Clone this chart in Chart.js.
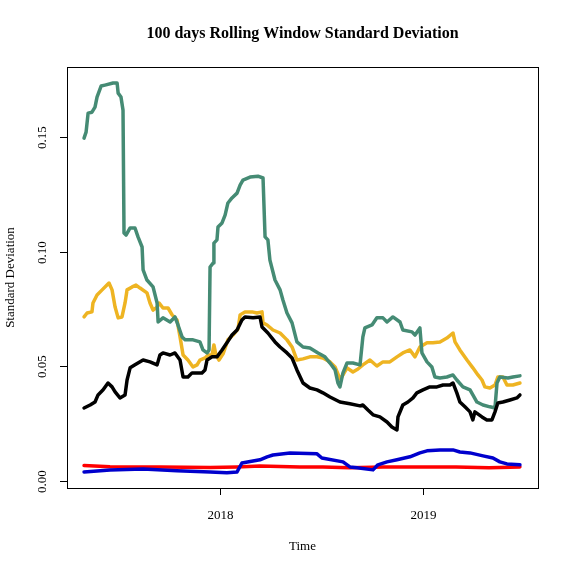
<!DOCTYPE html>
<html lang="en">
<head>
    <meta charset="UTF-8">
    <title>100 days Rolling Window Standard Deviation</title>
    <script src="https://cdn.jsdelivr.net/npm/chart.js"></script>
    <style>
        body {
            margin: 0;
            background: #fff;
        }
        canvas {
            display: block;
        }
    </style>
</head>
<body>
    <canvas id="sdChart" width="572" height="572"></canvas>

    <script>
        // time is in decimal years
        const greenTime = [2017.330, 2017.340, 2017.350, 2017.369, 2017.384, 2017.394, 2017.414, 2017.433, 2017.473, 2017.493,
            2017.498, 2017.512, 2017.522, 2017.527, 2017.537, 2017.557, 2017.581, 2017.596, 2017.616, 2017.621,
            2017.640, 2017.670, 2017.690, 2017.695, 2017.719, 2017.754, 2017.778, 2017.793, 2017.813, 2017.828,
            2017.867, 2017.901, 2017.916, 2017.936, 2017.946, 2017.951, 2017.966, 2017.970, 2017.985, 2017.990,
            2018.010, 2018.025, 2018.039, 2018.059, 2018.084, 2018.099, 2018.113, 2018.148, 2018.187, 2018.212,
            2018.222, 2018.236, 2018.246, 2018.271, 2018.296, 2018.310, 2018.330, 2018.355, 2018.379, 2018.409,
            2018.443, 2018.483, 2018.517, 2018.542, 2018.567, 2018.581, 2018.591, 2018.606, 2018.626, 2018.655,
            2018.690, 2018.704, 2018.714, 2018.749, 2018.773, 2018.803, 2018.823, 2018.852, 2018.887, 2018.901,
            2018.946, 2018.961, 2018.985, 2018.995, 2019.020, 2019.044, 2019.059, 2019.084, 2019.118, 2019.148,
            2019.167, 2019.197, 2019.232, 2019.246, 2019.266, 2019.296, 2019.330, 2019.355, 2019.365, 2019.379,
            2019.419, 2019.443, 2019.478];
        const greenSD = [0.1495, 0.1521, 0.1604, 0.1608, 0.1630, 0.1674, 0.1722, 0.1726, 0.1735, 0.1735,
            0.1691, 0.1674, 0.1617, 0.1081, 0.1072, 0.1103, 0.1103, 0.1064, 0.1020, 0.0920,
            0.0876, 0.0846, 0.0776, 0.0693, 0.0711, 0.0693, 0.0715, 0.0680, 0.0628, 0.0615,
            0.0615, 0.0606, 0.0571, 0.0558, 0.0571, 0.0933, 0.0950, 0.1037, 0.1051, 0.1107,
            0.1125, 0.1159, 0.1212, 0.1234, 0.1255, 0.1290, 0.1312, 0.1325, 0.1329, 0.1321,
            0.1064, 0.1051, 0.0963, 0.0876, 0.0833, 0.0789, 0.0732, 0.0689, 0.0606, 0.0584,
            0.0580, 0.0558, 0.0541, 0.0514, 0.0484, 0.0427, 0.0410, 0.0471, 0.0514, 0.0514,
            0.0506, 0.0628, 0.0667, 0.0680, 0.0711, 0.0711, 0.0693, 0.0715, 0.0693, 0.0658,
            0.0650, 0.0636, 0.0667, 0.0558, 0.0519, 0.0497, 0.0453, 0.0449, 0.0453, 0.0462,
            0.0440, 0.0410, 0.0397, 0.0375, 0.0344, 0.0331, 0.0323, 0.0318, 0.0427, 0.0453,
            0.0449, 0.0453, 0.0458];

        const yellowTime = [2017.330, 2017.345, 2017.369, 2017.374, 2017.394, 2017.419, 2017.443, 2017.453, 2017.468, 2017.483,
            2017.498, 2017.517, 2017.532, 2017.542, 2017.567, 2017.586, 2017.606, 2017.640, 2017.655, 2017.670,
            2017.690, 2017.700, 2017.719, 2017.744, 2017.764, 2017.788, 2017.803, 2017.818, 2017.842, 2017.867,
            2017.887, 2017.901, 2017.926, 2017.941, 2017.961, 2017.970, 2017.980, 2017.995, 2018.015, 2018.039,
            2018.064, 2018.089, 2018.099, 2018.123, 2018.158, 2018.182, 2018.207, 2018.212, 2018.232, 2018.261,
            2018.296, 2018.330, 2018.355, 2018.379, 2018.409, 2018.443, 2018.478, 2018.507, 2018.542, 2018.567,
            2018.591, 2018.606, 2018.626, 2018.655, 2018.680, 2018.704, 2018.739, 2018.773, 2018.803, 2018.837,
            2018.872, 2018.901, 2018.936, 2018.961, 2018.985, 2019.020, 2019.049, 2019.084, 2019.118, 2019.148,
            2019.158, 2019.182, 2019.217, 2019.246, 2019.271, 2019.291, 2019.305, 2019.330, 2019.355, 2019.369,
            2019.394, 2019.414, 2019.443, 2019.478];
        const yellowSD = [0.0715, 0.0732, 0.0737, 0.0776, 0.0811, 0.0833, 0.0854, 0.0863, 0.0833, 0.0758,
            0.0711, 0.0715, 0.0776, 0.0833, 0.0846, 0.0854, 0.0841, 0.0820, 0.0776, 0.0745,
            0.0758, 0.0776, 0.0754, 0.0754, 0.0724, 0.0702, 0.0628, 0.0549, 0.0527, 0.0497,
            0.0506, 0.0527, 0.0536, 0.0549, 0.0549, 0.0593, 0.0549, 0.0527, 0.0554, 0.0615,
            0.0636, 0.0663, 0.0724, 0.0737, 0.0737, 0.0732, 0.0737, 0.0689, 0.0680, 0.0658,
            0.0645, 0.0615, 0.0584, 0.0527, 0.0532, 0.0541, 0.0541, 0.0536, 0.0519, 0.0497,
            0.0445, 0.0462, 0.0493, 0.0475, 0.0488, 0.0506, 0.0527, 0.0501, 0.0519, 0.0519,
            0.0541, 0.0558, 0.0571, 0.0541, 0.0584, 0.0602, 0.0602, 0.0606, 0.0623, 0.0645,
            0.0606, 0.0571, 0.0527, 0.0493, 0.0462, 0.0440, 0.0410, 0.0405, 0.0418, 0.0453,
            0.0453, 0.0418, 0.0418, 0.0427];

        const blackTime = [2017.330, 2017.360, 2017.384, 2017.399, 2017.424, 2017.448, 2017.468, 2017.483, 2017.507, 2017.532,
            2017.542, 2017.557, 2017.581, 2017.621, 2017.655, 2017.690, 2017.704, 2017.719, 2017.754, 2017.778,
            2017.803, 2017.818, 2017.842, 2017.862, 2017.887, 2017.911, 2017.926, 2017.936, 2017.961, 2017.985,
            2018.010, 2018.034, 2018.059, 2018.084, 2018.108, 2018.123, 2018.163, 2018.197, 2018.207, 2018.236,
            2018.271, 2018.296, 2018.330, 2018.355, 2018.379, 2018.409, 2018.443, 2018.478, 2018.507, 2018.542,
            2018.591, 2018.640, 2018.690, 2018.704, 2018.729, 2018.754, 2018.788, 2018.823, 2018.847, 2018.872,
            2018.877, 2018.901, 2018.926, 2018.951, 2018.970, 2019.000, 2019.034, 2019.069, 2019.099, 2019.133,
            2019.148, 2019.167, 2019.182, 2019.207, 2019.232, 2019.246, 2019.256, 2019.291, 2019.315, 2019.340,
            2019.355, 2019.369, 2019.394, 2019.429, 2019.463, 2019.478];
        const blackSD = [0.0318, 0.0331, 0.0344, 0.0375, 0.0397, 0.0427, 0.0410, 0.0388, 0.0362, 0.0375,
            0.0440, 0.0493, 0.0506, 0.0527, 0.0519, 0.0506, 0.0549, 0.0558, 0.0549, 0.0558,
            0.0527, 0.0453, 0.0453, 0.0471, 0.0471, 0.0471, 0.0484, 0.0527, 0.0541, 0.0541,
            0.0571, 0.0602, 0.0636, 0.0658, 0.0702, 0.0715, 0.0711, 0.0715, 0.0671, 0.0645,
            0.0606, 0.0584, 0.0558, 0.0536, 0.0484, 0.0427, 0.0405, 0.0397, 0.0384, 0.0366,
            0.0344, 0.0336, 0.0327, 0.0331, 0.0309, 0.0288, 0.0279, 0.0257, 0.0235, 0.0222,
            0.0279, 0.0331, 0.0344, 0.0362, 0.0384, 0.0397, 0.0410, 0.0410, 0.0418, 0.0418,
            0.0427, 0.0384, 0.0344, 0.0323, 0.0301, 0.0266, 0.0301, 0.0279, 0.0266, 0.0266,
            0.0301, 0.0340, 0.0344, 0.0353, 0.0362, 0.0375];

        const redTime = [2017.330, 2017.458, 2017.704, 2017.951, 2018.084, 2018.197, 2018.394, 2018.507, 2018.640, 2018.803,
            2018.995, 2019.163, 2019.325, 2019.478];
        const redSD = [0.0067, 0.0062, 0.0061, 0.0058, 0.0061, 0.0065, 0.0061, 0.0061, 0.0057, 0.0061,
            0.0061, 0.0061, 0.0057, 0.0061];

        const blueTime = [2017.330, 2017.458, 2017.621, 2017.788, 2017.951, 2018.034, 2018.084, 2018.108, 2018.197, 2018.232,
            2018.261, 2018.345, 2018.478, 2018.502, 2018.606, 2018.640, 2018.675, 2018.754, 2018.778, 2018.823,
            2018.872, 2018.936, 2018.985, 2019.020, 2019.084, 2019.148, 2019.182, 2019.232, 2019.296, 2019.345,
            2019.379, 2019.414, 2019.478];
        const blueSD = [0.0039, 0.0048, 0.0052, 0.0044, 0.0039, 0.0035, 0.0039, 0.0078, 0.0092, 0.0105,
            0.0113, 0.0122, 0.0118, 0.0100, 0.0083, 0.0061, 0.0057, 0.0048, 0.0070, 0.0083,
            0.0092, 0.0105, 0.0122, 0.0131, 0.0135, 0.0135, 0.0126, 0.0122, 0.0109, 0.0100,
            0.0083, 0.0074, 0.0070];

        const yTicks = [0, 0.05, 0.10, 0.15];
        const xTicks = [2018, 2019];

        function pairs(t, v) {
            return t.map((x, i) => ({ x: x, y: v[i] }));
        }

        function series(data, color, order) {
            return {
                data: data,
                borderColor: color,
                borderWidth: 3.5,
                borderJoinStyle: 'round',
                borderCapStyle: 'round',
                pointRadius: 0,
                fill: false,
                tension: 0,
                order: order
            };
        }

        // R style axes, box and titles
        const rAxes = {
            id: 'rAxes',
            afterDraw(chart) {
                const c = chart.ctx;
                const a = chart.chartArea;
                const xs = chart.scales.x;
                const ys = chart.scales.y;
                c.save();
                c.strokeStyle = '#000';
                c.fillStyle = '#000';
                c.lineWidth = 1;
                c.strokeRect(a.left + 0.5, a.top + 0.5, a.right - a.left, a.bottom - a.top);

                c.font = '13px "Liberation Serif", serif';
                c.textAlign = 'center';
                c.textBaseline = 'middle';
                xTicks.forEach(t => {
                    const px = Math.round(xs.getPixelForValue(t)) + 0.5;
                    c.beginPath();
                    c.moveTo(px, a.bottom);
                    c.lineTo(px, a.bottom + 7);
                    c.stroke();
                    c.fillText(String(t), px, a.bottom + 28);
                });

                const y0 = Math.round(ys.getPixelForValue(yTicks[0])) + 0.5;
                const y1 = Math.round(ys.getPixelForValue(yTicks[yTicks.length - 1])) + 0.5;
                c.beginPath();
                c.moveTo(a.left + 0.5, y0);
                c.lineTo(a.left + 0.5, y1);
                c.stroke();
                yTicks.forEach(t => {
                    const py = Math.round(ys.getPixelForValue(t)) + 0.5;
                    c.beginPath();
                    c.moveTo(a.left, py);
                    c.lineTo(a.left - 7, py);
                    c.stroke();
                    c.save();
                    c.translate(a.left - 24, py);
                    c.rotate(-Math.PI / 2);
                    c.fillText(t.toFixed(2), 0, 0);
                    c.restore();
                });

                const cx = (a.left + a.right) / 2;
                c.fillText('Time', cx, 547);
                c.save();
                c.translate(11, (a.top + a.bottom) / 2);
                c.rotate(-Math.PI / 2);
                c.fillText('Standard Deviation', 0, 0);
                c.restore();

                c.font = 'bold 16px "Liberation Serif", serif';
                c.fillText('100 days Rolling Window Standard Deviation', cx, 34);
                c.restore();
            }
        };

        const ctx = document.getElementById('sdChart').getContext('2d');
        const sdChart = new Chart(ctx, {
            type: 'line',
            data: {
                datasets: [
                    series(pairs(blackTime, blackSD), '#000000', 0),
                    series(pairs(greenTime, greenSD), '#458B74', 1),
                    series(pairs(yellowTime, yellowSD), '#EEB422', 2),
                    series(pairs(blueTime, blueSD), '#0000CD', 3),
                    series(pairs(redTime, redSD), '#FF0000', 4)
                ]
            },
            options: {
                responsive: false,
                animation: false,
                layout: {
                    padding: { left: 67, top: 67, right: 34, bottom: 84 }
                },
                plugins: {
                    legend: { display: false },
                    tooltip: { enabled: false }
                },
                scales: {
                    x: {
                        type: 'linear',
                        display: false,
                        min: 2017.246,
                        max: 2019.567
                    },
                    y: {
                        display: false,
                        min: -0.0031,
                        max: 0.1805
                    }
                }
            },
            plugins: [rAxes]
        });
    </script>
</body>
</html>
